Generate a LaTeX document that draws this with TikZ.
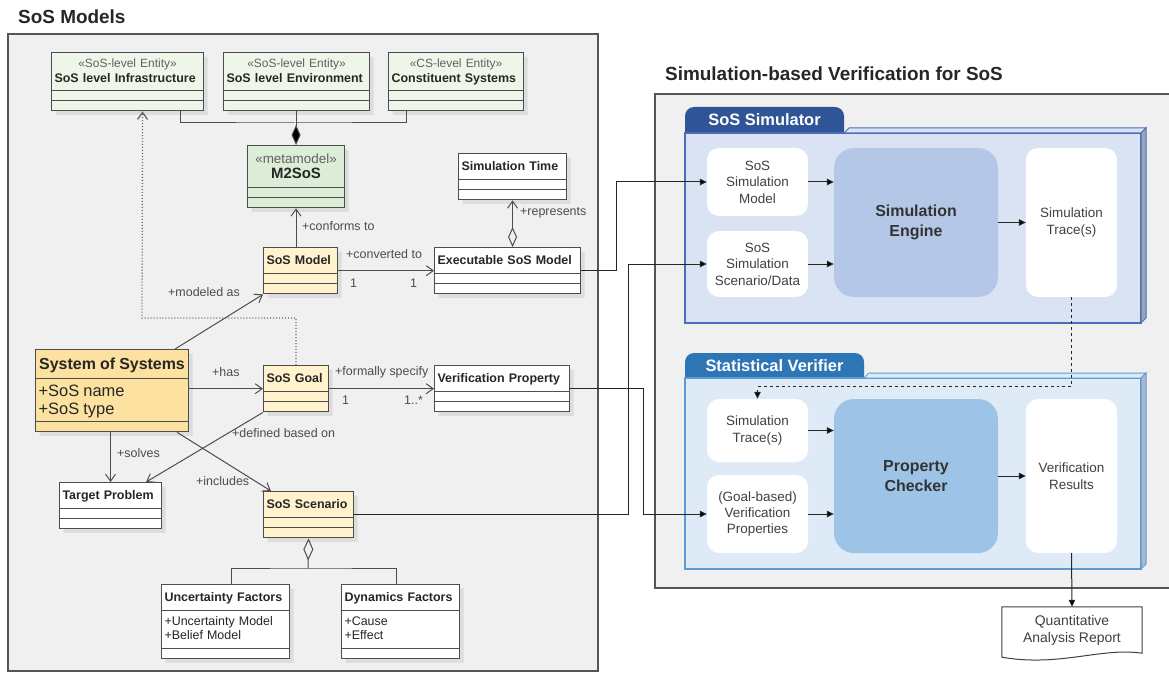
\documentclass[tikz,border=0pt]{standalone}
\usepackage{fontspec}
\setmainfont{Liberation Sans}
\usepackage{tikz}
\usetikzlibrary{shapes.multipart}
\usetikzlibrary{shadows}
\usetikzlibrary{arrows.meta}

\definecolor{panelfill}{HTML}{F0F0F0}
\definecolor{panelline}{HTML}{555555}
\definecolor{umlline}{HTML}{4D4D4D}
\definecolor{stereo}{HTML}{606060}
\definecolor{entgreen}{HTML}{EEF6EA}
\definecolor{metagreen}{HTML}{DCEED7}
\definecolor{soslight}{HTML}{FFF2CC}
\definecolor{sosdark}{HTML}{FCE1A0}
\definecolor{simbody}{HTML}{DAE3F3}
\definecolor{simline}{HTML}{4A6FB5}
\definecolor{simtab}{HTML}{2F5597}
\definecolor{simcore}{HTML}{B4C7E7}
\definecolor{verbody}{HTML}{DEEBF7}
\definecolor{verline}{HTML}{5B9BD5}
\definecolor{vertab}{HTML}{2E75B6}
\definecolor{vercore}{HTML}{9DC3E6}
\definecolor{sidegray}{HTML}{9AA5BD}

\newcommand{\blank}{\rule{0pt}{9bp}}
\newcommand{\cname}[1]{\centering\rule[-9bp]{0pt}{25bp}\textbf{#1}}
\newcommand{\stname}[2]{\centering\rule{0pt}{14bp}{\color{stereo}{\fontsize{12}{15}\selectfont «#1»}}\\\textbf{#2}\rule[-8bp]{0pt}{8bp}}

\begin{document}
\begin{tikzpicture}[x=1bp,y=-1bp,
	uml/.style={rectangle split, rectangle split parts=3, anchor=north west, draw=umlline, line width=1.1bp,
		text width=#1, inner xsep=3bp, inner ysep=0bp, font=\fontsize{12.5}{15}\selectfont, text=black!85,
		drop shadow={shadow xshift=4bp, shadow yshift=-4bp, fill=black, opacity=0.08}},
	lbl/.style={font=\fontsize{12.5}{15}\selectfont, text=black!70, inner sep=0pt, anchor=west},
	line/.style={draw=umlline, line width=1bp},
	assoc/.style={line, -{Straight Barb[length=7bp,width=10bp]}},
	flow/.style={draw=black!85, line width=1bp, -{Triangle[length=7bp,width=6.5bp]}},
	card/.style={rounded corners=12bp, fill=white, inner sep=0pt, minimum width=101bp, align=center,
		font=\fontsize{13.5}{16.5}\selectfont, text=black!75},
	core/.style={rounded corners=20bp, inner sep=0pt, minimum width=164bp, align=center,
		font=\bfseries\fontsize{16}{20}\selectfont, text=black!80},
	tabtext/.style={font=\bfseries\fontsize{16.5}{20}\selectfont, text=white, inner sep=0pt},
	title/.style={font=\bfseries\fontsize{19}{22}\selectfont, text=black!85, inner sep=0pt, anchor=west},
	]
	\useasboundingbox (0,0) rectangle (1169,673);

	%Panels
	\node[title] (title1) at (18,17) {SoS Models};
	\node[title] (title2) at (665,74) {Simulation-based Verification for SoS};
	\draw[fill=panelfill, draw=panelline, line width=1.2bp] (8,34) rectangle (598,671);
	\draw[fill=panelfill, draw=panelline, line width=1.2bp] (655,94) rectangle (1185,588);

	%SoS simulator frame
	\fill[simtab, rounded corners=9bp] (685,107) rectangle (844,143);
	\draw[fill=simbody, draw=simline, line width=1.2bp] (685,133) rectangle (1141,323);
	\draw[fill=simbody, draw=simline, line width=1bp] (844,133) -- (849,128) -- (1146,128) -- (1141,133) -- cycle;
	\draw[fill=sidegray, draw=simline, line width=1bp] (1141,133) -- (1146,128) -- (1146,318) -- (1141,323) -- cycle;
	\node[tabtext] (simtitle) at (764.5,120) {SoS Simulator};

	%Statistical verifier frame
	\fill[vertab, rounded corners=9bp] (685,353) rectangle (864,388);
	\draw[fill=verbody, draw=verline, line width=1.2bp] (685,378) rectangle (1141,569);
	\draw[fill=verbody, draw=verline, line width=1bp] (864,378) -- (869,373) -- (1146,373) -- (1141,378) -- cycle;
	\draw[fill=sidegray!80, draw=verline, line width=1bp] (1141,378) -- (1146,373) -- (1146,564) -- (1141,569) -- cycle;
	\node[tabtext] (vertitle) at (774.5,366) {Statistical Verifier};

	%Nodes
	\node[uml=146bp, fill=entgreen] (infra) at (51,52) {\stname{SoS-level Entity}{SoS level Infrastructure}\nodepart{two}\blank\nodepart{three}\blank};
	\node[uml=140bp, fill=entgreen] (env) at (223,52) {\stname{SoS-level Entity}{SoS level Environment}\nodepart{two}\blank\nodepart{three}\blank};
	\node[uml=129bp, fill=entgreen] (cs) at (388,52) {\stname{CS-level Entity}{Constituent Systems}\nodepart{two}\blank\nodepart{three}\blank};
	\node[uml=91bp, fill=metagreen] (meta) at (247,145) {\rule{0pt}{17bp}\makebox[\linewidth]{\color{stereo}\fontsize{13.5}{16}\selectfont «metamodel»}\\\makebox[\linewidth]{\fontsize{15}{16}\selectfont\textbf{M2SoS}}\rule[-9bp]{0pt}{9bp}\nodepart{two}\blank\nodepart{three}\blank};
	\node[uml=102bp, fill=white] (simtime) at (458,153) {\cname{Simulation Time}\nodepart{two}\blank\nodepart{three}\blank};
	\node[uml=68bp, fill=soslight] (sosmodel) at (263,247) {\cname{SoS Model}\nodepart{two}\blank\nodepart{three}\blank};
	\node[uml=140bp, fill=white] (exec) at (434,247) {\cname{Executable SoS Model}\nodepart{two}\blank\nodepart{three}\blank};
	\node[uml=147bp, fill=sosdark] (sos) at (35,349) {\rule[-9bp]{0pt}{28bp}\makebox[\linewidth]{\fontsize{16}{18}\selectfont\textbf{System of Systems}}\nodepart{two}{\fontsize{16.5}{18}\selectfont\rule{0pt}{17bp}+SoS name\\+SoS type\rule[-7bp]{0pt}{7bp}\par}\nodepart{three}\blank};
	\node[uml=59bp, fill=soslight] (goal) at (263,365) {\cname{SoS Goal}\nodepart{two}\blank\nodepart{three}\blank};
	\node[uml=129bp, fill=white] (vprop) at (434,365) {\cname{Verification Property}\nodepart{two}\blank\nodepart{three}\blank};
	\node[uml=96bp, fill=white] (target) at (59,482) {\cname{Target Problem}\nodepart{two}\blank\nodepart{three}\blank};
	\node[uml=84bp, fill=soslight] (scen) at (263,491) {\cname{SoS Scenario}\nodepart{two}\blank\nodepart{three}\blank};
	\node[uml=122bp, fill=white] (uncert) at (161,584) {\cname{Uncertainty Factors}\nodepart{two}{\fontsize{12.5}{14}\selectfont\rule{0pt}{14bp}+Uncertainty Model\\+Belief Model\rule[-9bp]{0pt}{9bp}\par}\nodepart{three}\blank};
	\node[uml=112bp, fill=white] (dyn) at (341,584) {\cname{Dynamics Factors}\nodepart{two}{\fontsize{12.5}{14}\selectfont\rule{0pt}{14bp}+Cause\\+Effect\rule[-9bp]{0pt}{9bp}\par}\nodepart{three}\blank};

	\node[card, minimum height=68bp] (simmodel) at (757.5,182) {SoS\\Simulation\\Model};
	\node[card, minimum height=66bp] (scendata) at (757.5,264) {SoS\\Simulation\\Scenario/Data};
	\node[core, fill=simcore, minimum height=149bp] (engine) at (916,222.5) {Simulation\\Engine};
	\node[card, minimum width=91bp, minimum height=149bp] (traces) at (1071.5,222.5) {Simulation\\Trace(s)};
	\node[card, minimum height=63bp] (strace) at (757.5,430.5) {Simulation\\Trace(s)};
	\node[card, minimum height=78bp] (props) at (757.5,514) {(Goal-based)\\Verification\\Properties};
	\node[core, fill=vercore, minimum height=154bp] (checker) at (916,476) {Property\\Checker};
	\node[card, minimum width=91bp, minimum height=154bp] (results) at (1071.5,476) {Verification\\Results};
	\node[inner sep=0pt, minimum width=140bp, minimum height=46bp] (report) at (1072,630) {};
	\draw[draw=black!75, fill=white, line width=1bp] (report.north west) -- (report.north east) -- (report.south east)
		.. controls ([xshift=-42bp,yshift=6bp]report.south east) and ([xshift=58bp,yshift=-14bp]report.south west) .. ([yshift=-4bp]report.south west) -- cycle;
	\node[inner sep=0pt, align=center, font=\fontsize{14}{17}\selectfont, text=black!75] (reporttext) at (report.center) {Quantitative\\Analysis Report};

	%Labels
	\node[lbl] (lconf) at (302,226) {+conforms to};
	\node[lbl] (lrep) at (520,213) {+represents};
	\node[lbl] (lconv) at (346,254) {+converted to};
	\node[lbl] (mconv1) at (350,283) {1};
	\node[lbl] (mconv2) at (410,283) {1};
	\node[lbl] (lmod) at (168,292) {+modeled as};
	\node[lbl] (lhas) at (212,372) {+has};
	\node[lbl] (lform) at (335,372) {+formally specify};
	\node[lbl] (mform1) at (342,400) {1};
	\node[lbl] (mform2) at (404,400) {1..*};
	\node[lbl] (ldef) at (232,433) {+defined based on};
	\node[lbl] (lsol) at (117,453) {+solves};
	\node[lbl] (linc) at (196,481) {+includes};

	%Connectors
	\coordinate (jn) at (295,123);
	\coordinate (dotbend) at (142,318);
	\coordinate (aggjn) at (308,568);
	\draw[line] ([xshift=53bp]infra.south) |- (jn) -| ([xshift=-50bp]cs.south);
	\draw[line, {Diamond[length=20bp,width=9bp,fill=black]}-] (meta.north) -- (meta.north |- env.south);
	\draw[assoc] (sosmodel.north -| meta.south) -- (meta.south);
	\draw[line, {Diamond[open,length=20bp,width=9bp]}-{Straight Barb[length=7bp,width=10bp]}] (exec.north -| simtime.south) -- (simtime.south);
	\draw[assoc] (sosmodel.east) -- (exec.west);
	\draw[assoc] ([xshift=-14bp]sos.north east) -- (sosmodel.south west);
	\draw[assoc, dotted, line width=1.3bp, draw=black!60] (goal.north) |- (dotbend) -- ([xshift=15bp]infra.south);
	\draw[assoc] (sos.east |- goal.west) -- (goal.west);
	\draw[assoc] (goal.east) -- (vprop.west);
	\draw[assoc] (goal.south west) -- ([xshift=-16bp]target.north east);
	\draw[assoc] (sos.south -| target.north) -- (target.north);
	\draw[assoc] ([xshift=-12bp]sos.south east) -- ([xshift=8bp]scen.north west);
	\draw[line, {Diamond[open,length=22bp,width=10bp]}-] (scen.south) -- (aggjn);
	\draw[line] ([xshift=6bp]uncert.north) |- (aggjn) -| ([xshift=-4bp]dyn.north);

	\draw[flow] (exec.east) -| ([xshift=-90bp]simmodel.west) -- (simmodel.west);
	\draw[flow] (scen.east) -| ([xshift=-78bp]scendata.west) -- (scendata.west);
	\draw[flow] (vprop.east) -| ([xshift=-63bp]props.west) -- (props.west);
	\draw[flow] (simmodel.east) -- (simmodel.east -| engine.west);
	\draw[flow] (scendata.east) -- (scendata.east -| engine.west);
	\draw[flow] (engine.east) -- (traces.west);
	\draw[flow] (strace.east) -- (strace.east -| checker.west);
	\draw[flow] (props.east) -- (props.east -| checker.west);
	\draw[flow] (checker.east) -- (results.west);
	\draw[flow, dashed] (traces.south) |- ([yshift=12bp]strace.north) -- (strace.north);
	\draw[flow] (results.south) -- (report.north);
\end{tikzpicture}
\end{document}
